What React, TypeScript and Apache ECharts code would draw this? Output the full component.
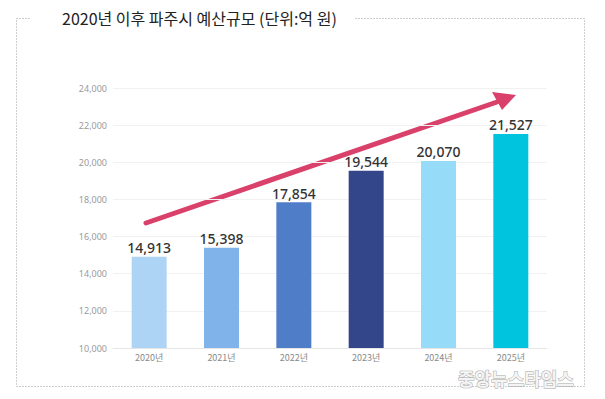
import React, { useEffect, useRef } from "react";
import * as echarts from "echarts";

const categories = ["2020년", "2021년", "2022년", "2023년", "2024년", "2025년"];
const values = [14913, 15398, 17854, 19544, 20070, 21527];
const barColors = ["#aed4f5", "#7fb3ea", "#507dc8", "#33468a", "#96dbf7", "#00c4de"];
const titleText = "2020년 이후 파주시 예산규모 (단위:억 원)";
const watermark = "중앙뉴스타임스";

export default function App() {
  const ref = useRef<HTMLDivElement>(null);
  useEffect(() => {
    document.body.style.margin = "0";
    const chart = echarts.init(ref.current!, null, { renderer: "svg" });
    const fmt = (v: number) => v.toLocaleString("en-US");
    chart.setOption({
      animation: false,
      backgroundColor: "#ffffff",
      grid: { left: 113, right: 58, top: 88, bottom: 51 },
      xAxis: {
        type: "category",
        data: categories,
        axisLine: { lineStyle: { color: "#e6e6e6" } },
        axisTick: { show: false },
        axisLabel: { color: "#8a8a8a", fontSize: 9, margin: 5, fontFamily: "Noto Sans CJK KR" },
      },
      yAxis: {
        type: "value",
        min: 10000,
        max: 24000,
        interval: 2000,
        axisLine: { show: false },
        axisTick: { show: false },
        splitLine: { lineStyle: { color: "#f1f1f1" } },
        axisLabel: { color: "#9a9a9a", fontSize: 9, margin: 6, formatter: fmt, fontFamily: "Noto Sans" },
      },
      series: [
        {
          type: "bar",
          data: values.map((v, i) => ({ value: v, itemStyle: { color: barColors[i] } })),
          barWidth: 35,
          label: {
            show: true,
            position: "top",
            distance: 2,
            formatter: (p: any) => fmt(p.value),
            color: "#333333",
            fontSize: 14,
            fontWeight: 500,
            fontFamily: "Noto Sans",
          },
        },
      ],
      graphic: [
        {
          type: "rect",
          shape: { x: 16.5, y: 18.5, width: 568, height: 368 },
          style: { fill: "none", stroke: "#9a9a9a", lineWidth: 1, lineDash: [1, 2] },
          silent: true,
        },
        {
          type: "rect",
          shape: { x: 30, y: 8, width: 325, height: 22 },
          style: { fill: "#ffffff" },
          silent: true,
        },
        {
          type: "text",
          x: 62,
          y: 18,
          style: {
            text: titleText,
            fontSize: 16,
            fontWeight: 400,
            fill: "#222222",
            fontFamily: "Noto Sans CJK KR",
            verticalAlign: "middle",
          },
        },
        {
          type: "line",
          shape: { x1: 146, y1: 223, x2: 497, y2: 102 },
          style: { stroke: "#d9416a", lineWidth: 5, lineCap: "round" },
          silent: true,
        },
        {
          type: "polygon",
          shape: { points: [[516, 95], [492, 92], [502, 110]] },
          style: { fill: "#d9416a" },
          silent: true,
        },
        {
          type: "text",
          x: 458,
          y: 378,
          style: {
            text: watermark,
            fontSize: 18,
            fontWeight: "bold",
            fill: "#f4f4f4",
            stroke: "#a8a8a8",
            lineWidth: 1,
            fontFamily: "Noto Sans CJK KR",
            verticalAlign: "middle",
          },
          silent: true,
        },
      ],
    });
    return () => chart.dispose();
  }, []);
  return <div ref={ref} style={{ width: 605, height: 399 }} />;
}
